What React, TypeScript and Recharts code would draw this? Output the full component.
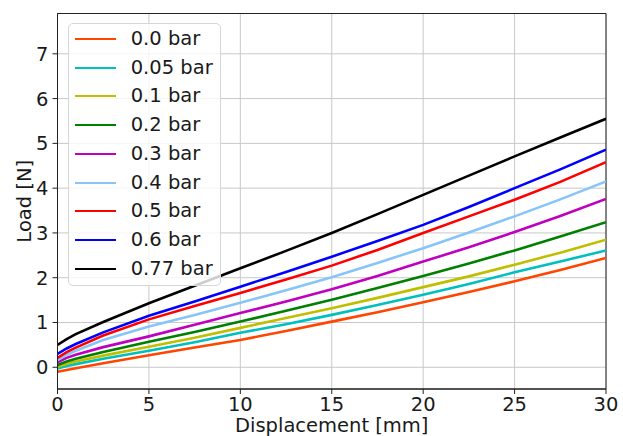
import React from "react";
import {
  LineChart,
  Line,
  XAxis,
  YAxis,
  CartesianGrid,
  Legend,
  ReferenceArea,
} from "recharts";

// Displacement samples [mm]
const displacement = [0, 0.5, 1, 2.5, 5, 7.5, 10, 12.5, 15, 17.5, 20, 22.5, 25, 27.5, 30];

// Load [N] per chamber pressure
const load00 = [-0.10, -0.06, -0.02, 0.09, 0.27, 0.44, 0.61, 0.81, 1.02, 1.23, 1.45, 1.68, 1.92, 2.17, 2.44];
const load005 = [-0.03, 0.03, 0.07, 0.19, 0.37, 0.56, 0.77, 0.96, 1.17, 1.39, 1.62, 1.86, 2.12, 2.36, 2.61];
const load01 = [0.01, 0.08, 0.13, 0.26, 0.46, 0.66, 0.88, 1.10, 1.32, 1.55, 1.79, 2.03, 2.29, 2.56, 2.85];
const load02 = [0.05, 0.13, 0.19, 0.34, 0.57, 0.79, 1.02, 1.26, 1.51, 1.77, 2.04, 2.32, 2.61, 2.92, 3.24];
const load03 = [0.11, 0.21, 0.28, 0.45, 0.69, 0.95, 1.21, 1.47, 1.74, 2.04, 2.36, 2.68, 3.02, 3.38, 3.76];
const load04 = [0.16, 0.28, 0.37, 0.61, 0.91, 1.17, 1.44, 1.72, 2.01, 2.33, 2.66, 3.01, 3.37, 3.75, 4.15];
const load05 = [0.21, 0.34, 0.44, 0.71, 1.07, 1.37, 1.66, 1.96, 2.27, 2.62, 3.00, 3.37, 3.74, 4.14, 4.58];
const load06 = [0.30, 0.42, 0.52, 0.78, 1.15, 1.47, 1.80, 2.13, 2.47, 2.82, 3.18, 3.58, 4.00, 4.42, 4.86];
const load077 = [0.50, 0.63, 0.74, 1.01, 1.43, 1.82, 2.21, 2.60, 3.00, 3.42, 3.85, 4.28, 4.71, 5.13, 5.55];

const seriesNames = ["0.0 bar", "0.05 bar", "0.1 bar", "0.2 bar", "0.3 bar", "0.4 bar", "0.5 bar", "0.6 bar", "0.77 bar"];
const seriesValues = [load00, load005, load01, load02, load03, load04, load05, load06, load077];
const seriesColors = ["#ff4500", "#00bfbf", "#bfbf00", "#008000", "#bf00bf", "#87c4fa", "#ff0000", "#0000ff", "#000000"];

const xTicks = [0, 5, 10, 15, 20, 25, 30];
const yTicks = [0, 1, 2, 3, 4, 5, 6, 7];
const xDomain = [0, 30];
const yDomain = [-0.485, 7.9];

const rows = displacement.map((x, i) => {
  const row: Record<string, number> = { x };
  seriesNames.forEach((name, s) => {
    row[name] = seriesValues[s][i];
  });
  return row;
});

const FONT = "'DejaVu Sans', sans-serif";
const FS = 19.5;

function LegendBox() {
  return (
    <div
      style={{
        boxSizing: "border-box",
        width: 153,
        height: 263,
        background: "rgba(255,255,255,0.8)",
        border: "1px solid #d6d6d6",
        borderRadius: 5,
        position: "relative",
        fontFamily: FONT,
        fontSize: FS,
        color: "#1a1a1a",
      }}
    >
      {seriesNames.map((name, i) => (
        <div
          key={name}
          style={{
            position: "absolute",
            left: 0,
            top: Math.round(1 + i * 28.7),
            height: 28,
            display: "flex",
            alignItems: "center",
            whiteSpace: "nowrap",
          }}
        >
          <div
            style={{
              marginLeft: 6,
              width: 41,
              height: 2,
              background: seriesColors[i],
            }}
          />
          <span style={{ marginLeft: 15, lineHeight: "28px" }}>{name}</span>
        </div>
      ))}
    </div>
  );
}

function YLabel(props: any) {
  const { viewBox } = props;
  const cy = viewBox.y + viewBox.height / 2;
  const x = 31;
  return (
    <text
      x={x}
      y={cy}
      transform={`rotate(-90, ${x}, ${cy})`}
      textAnchor="middle"
      fontFamily={FONT}
      fontSize={FS}
      fill="#1a1a1a"
    >
      Load [N]
    </text>
  );
}

function XLabel(props: any) {
  const { viewBox } = props;
  const cx = viewBox.x + viewBox.width / 2;
  return (
    <text x={cx} y={432} textAnchor="middle" fontFamily={FONT} fontSize={FS} fill="#1a1a1a">
      Displacement [mm]
    </text>
  );
}

export default function App() {
  return (
    <div style={{ position: "absolute", left: 0, top: 0, width: 623, height: 436, background: "#fff" }}>
      <LineChart
        width={623}
        height={436}
        data={rows}
        margin={{ top: 13.5, right: 17, left: 0, bottom: 0 }}
      >
        <CartesianGrid stroke="#c8c8c8" strokeWidth={1} vertical horizontal />
        <XAxis
          dataKey="x"
          type="number"
          domain={xDomain}
          ticks={xTicks}
          allowDataOverflow
          height={47}
          tickSize={5}
          tickMargin={3}
          stroke="#222"
          tick={{ fontFamily: FONT, fontSize: FS, fill: "#1a1a1a" }}
          label={<XLabel />}
        />
        <YAxis
          type="number"
          domain={yDomain}
          ticks={yTicks}
          allowDataOverflow
          width={57.5}
          tickSize={5}
          tickMargin={4}
          stroke="#222"
          tick={{ fontFamily: FONT, fontSize: FS, fill: "#1a1a1a" }}
          label={<YLabel />}
        />
        <ReferenceArea
          x1={xDomain[0]}
          x2={xDomain[1]}
          y1={yDomain[0]}
          y2={yDomain[1]}
          fill="none"
          stroke="#222"
          strokeWidth={1}
          ifOverflow="visible"
        />
        {seriesNames.map((name, i) => (
          <Line
            key={name}
            dataKey={name}
            type="linear"
            stroke={seriesColors[i]}
            strokeWidth={2.6}
            dot={false}
            activeDot={false}
            isAnimationActive={false}
          />
        ))}
        <Legend
          layout="vertical"
          verticalAlign="middle"
          align="center"
          content={() => <LegendBox />}
          wrapperStyle={{ left: 67.7, top: 23.3, width: 153, height: 263 }}
        />
      </LineChart>
    </div>
  );
}
